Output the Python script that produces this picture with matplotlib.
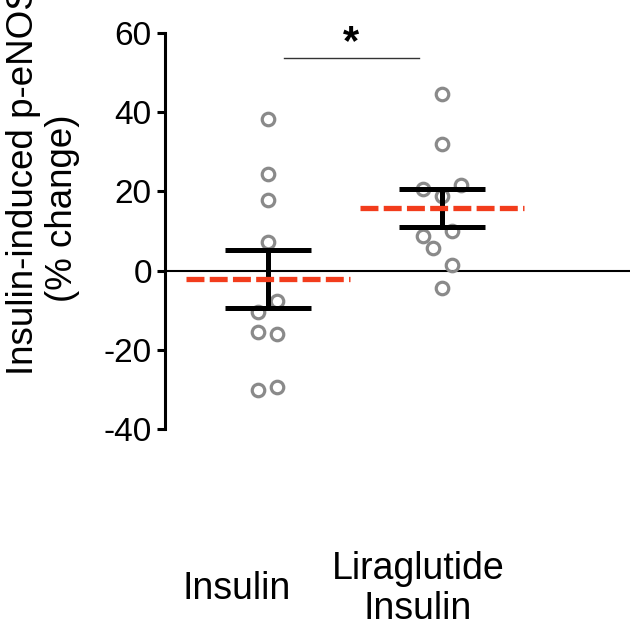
import numpy as np
import matplotlib
matplotlib.use('Agg')
import matplotlib.pyplot as plt
import matplotlib.transforms as mtransforms

plt.rcParams['font.family'] = ['Liberation Sans', 'DejaVu Sans']

# Data
groups = ['Insulin', 'Liraglutide\nInsulin']
insulin_vals = [38.4, 24.5, 17.9, 7.2, -7.8, -10.4, -15.6, -16.0, -30.1, -29.3]
insulin_jit = [0, 0, 0, 0, 0.053, -0.055, -0.055, 0.053, -0.055, 0.053]
lira_vals = [44.6, 31.9, 20.5, 21.7, 18.8, 10.0, 8.7, 5.7, 1.3, -4.4]
lira_jit = [0, 0, -0.11, 0.107, 0, 0.056, -0.11, -0.054, 0.056, 0]
means = [-2.2, 15.9]
sem_hi = [5.1, 20.5]
sem_lo = [-9.4, 11.1]
yticks = [-40, -20, 0, 20, 40, 60]
ylabel_lines = ['Insulin-induced p-eNOS', '(% change)']

red = '#f23c1c'
gray = '#8a8a8a'

fig = plt.figure(figsize=(6.3, 6.23), dpi=100)
ax = fig.add_axes([165 / 630, 1 - 429 / 623, 1 - 165 / 630, (429 - 33) / 623])

ax.axhline(0, color='black', lw=1.5, zorder=1)

for i, (vals, jit) in enumerate([(insulin_vals, insulin_jit), (lira_vals, lira_jit)]):
    xs = i + np.array(jit)
    ax.plot(xs, vals, 'o', ms=9, mfc='none', mec=gray, mew=2.3, zorder=2)
    # SEM bars
    ax.plot([i, i], [sem_lo[i], sem_hi[i]], color='black', lw=3.6, zorder=3,
            solid_capstyle='butt')
    ax.hlines([sem_lo[i], sem_hi[i]], i - 0.245, i + 0.245, color='black',
              lw=3.6, zorder=3)
    # mean
    ln, = ax.plot([i - 0.47, i + 0.47], [means[i], means[i]], color=red,
                  lw=3.8, zorder=4, solid_capstyle='butt')
    ln.set_dashes([3.4, 1.0])

# significance bar
ax.plot([0.092, 0.868], [53.7, 53.7], color='#333333', lw=1.0, clip_on=False)
ax.text(0.475, 57.5, '*', ha='center', va='center', fontsize=30,
        fontweight='bold')

ax.set_xlim(-0.592, 2.08)
ax.set_ylim(-40, 60)
ax.set_yticks(yticks)
ax.set_yticklabels([str(t) for t in yticks], fontsize=24)
ax.set_xticks([])
for s in ['top', 'right', 'bottom']:
    ax.spines[s].set_visible(False)
ax.spines['left'].set_linewidth(2.2)
ax.tick_params(axis='y', length=6, width=2.2, pad=3.5)

trans = mtransforms.blended_transform_factory(ax.transData, fig.transFigure)
label_x = [0 - 0.178, 1 - 0.138]
for lx, g in zip(label_x, groups):
    ax.text(lx, 1 - 589 / 623, g, transform=trans, ha='center', va='center',
            fontsize=27, linespacing=1.15)

# y label, two lines
fig.text(24 / 630, 1 - 180 / 623, ylabel_lines[0], rotation=90,
         ha='center', va='center', fontsize=26.5)
fig.text(62 / 630, 1 - 208 / 623, ylabel_lines[1], rotation=90,
         ha='center', va='center', fontsize=26.5)

fig.savefig('out.png', dpi=100)
